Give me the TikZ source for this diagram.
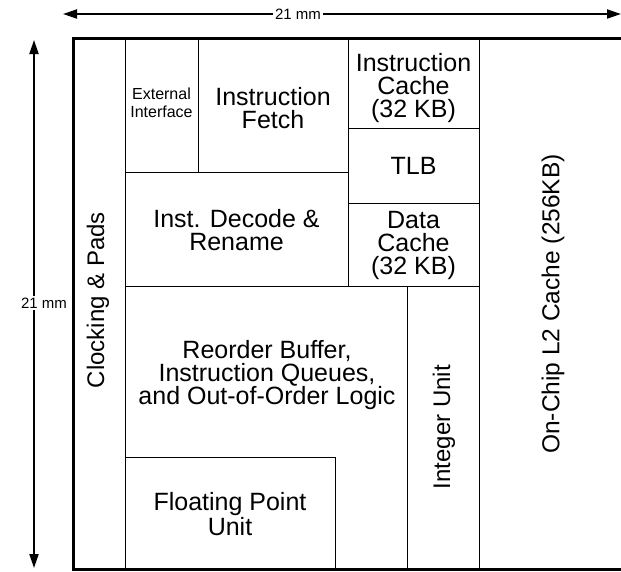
\documentclass[tikz,border=0pt]{standalone}
\usepackage{fontspec}
\setmainfont{Liberation Sans}
\usetikzlibrary{arrows.meta}
\begin{document}
\begin{tikzpicture}[x=1pt,y=-1pt,
  thin line/.style={line width=1pt,line cap=rect},
  unitlabel/.style={align=center,inner sep=0pt,font=\fontsize{25}{23}\selectfont},
  sidelabel/.style={align=center,inner sep=0pt,font=\fontsize{24}{23}\selectfont},
  smalllabel/.style={align=center,inner sep=0pt,font=\fontsize{16}{18}\selectfont},
  dimlabel/.style={fill=white,inner sep=2pt,font=\fontsize{15}{16}\selectfont},
  dimarrow/.style={line width=2pt,{Triangle[length=14pt,width=9pt]}-{Triangle[length=14pt,width=9pt]}}]
\useasboundingbox (0,0) rectangle (621,571);
% die outline
\draw[line width=3pt] (625,38.5) -- (73.5,38.5) -- (73.5,569.5) -- (625,569.5);
% inner partitions
\draw[thin line] (125,38.5) -- (125,569.5);
\draw[thin line] (198,38.5) -- (198,172);
\draw[thin line] (348,38.5) -- (348,286);
\draw[thin line] (479,38.5) -- (479,569.5);
\draw[thin line] (407,286) -- (407,569.5);
\draw[thin line] (125,172) -- (348,172);
\draw[thin line] (125,286) -- (479,286);
\draw[thin line] (348,128) -- (479,128);
\draw[thin line] (348,203) -- (479,203);
\draw[thin line] (125,457) -- (335,457) -- (335,569.5);
% labels
\node[sidelabel,rotate=90] (clk) at (98,300) {Clocking \& Pads};
\node[smalllabel] (ext) at (161.5,103) {External\\Interface};
\node[unitlabel] (fetch) at (273,108) {Instruction\\Fetch};
\node[unitlabel] (icache) at (413.5,88) {Instruction\\Cache\\(32 KB)};
\node[unitlabel] (tlb) at (413.5,166) {TLB};
\node[unitlabel] (dcache) at (413.5,245) {Data\\Cache\\(32 KB)};
\node[unitlabel] (decode) at (236.5,230) {Inst. Decode \&\\Rename};
\node[unitlabel] (rob) at (267,375) {Reorder Buffer,\\Instruction Queues,\\and Out-of-Order Logic};
\node[unitlabel] (fpu) at (230,514) {Floating Point\\Unit};
\node[sidelabel,rotate=90] (int) at (444,427) {Integer Unit};
\node[sidelabel,rotate=90,font=\fontsize{24.5}{23}\selectfont] (l2) at (553,304) {On-Chip L2 Cache (256KB)};
% dimension arrows
\coordinate (hl) at (63,14);
\coordinate (hr) at (621,14);
\coordinate (vt) at (34,40);
\coordinate (vb) at (34,568);
\draw[dimarrow] (hl) -- (hr);
\draw[dimarrow] (vt) -- (vb);
\node[dimlabel] (hdim) at (298,14) {21 mm};
\node[dimlabel] (vdim) at (44,303) {21 mm};
\end{tikzpicture}
\end{document}
